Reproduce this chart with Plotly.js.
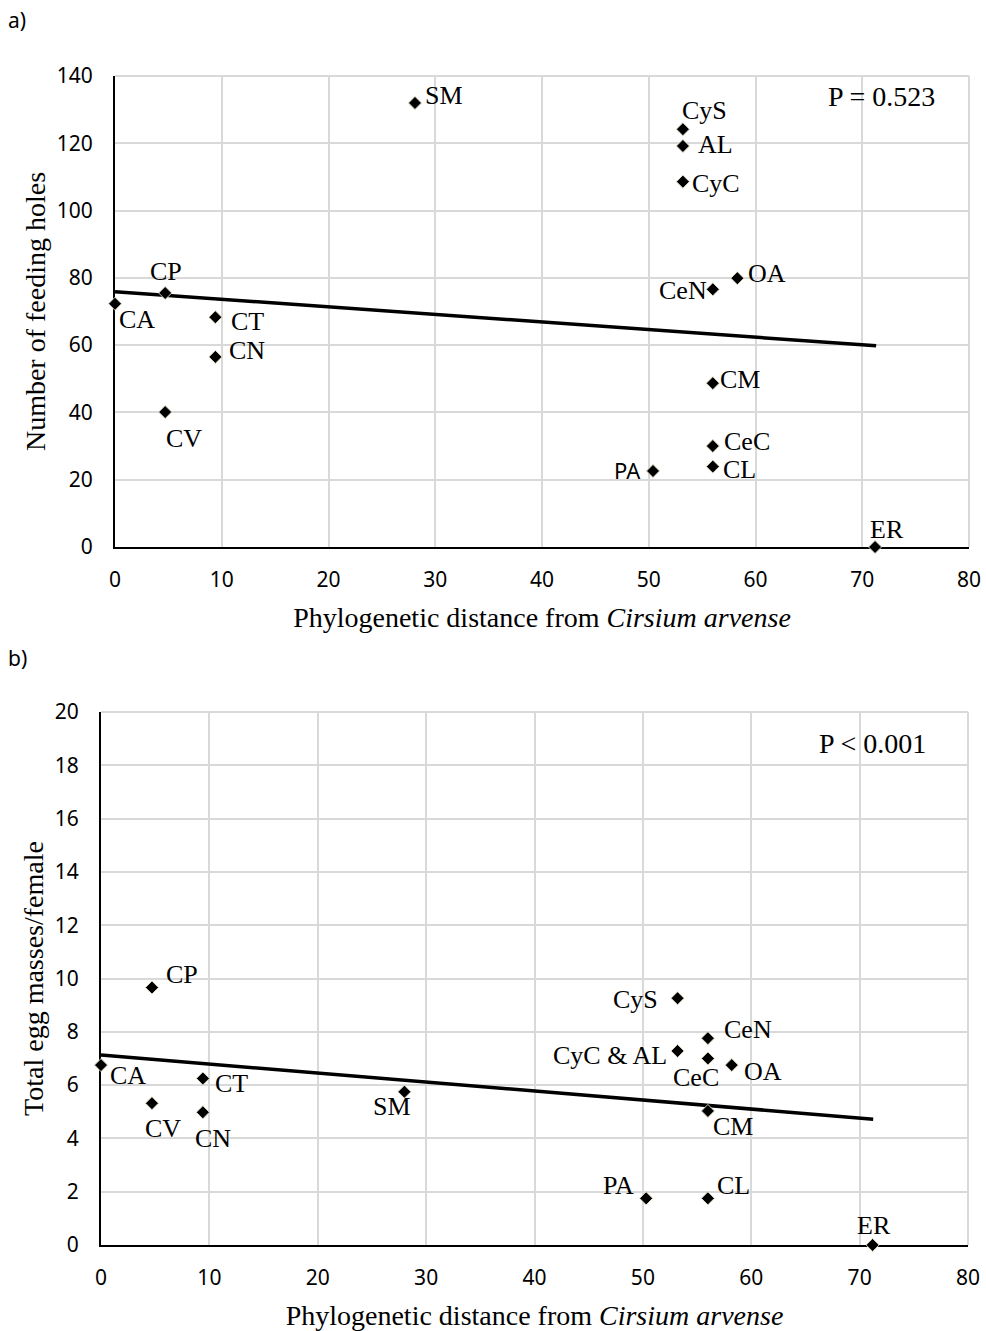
<!DOCTYPE html>
<html><head><meta charset="utf-8">
<script src="https://cdn.plot.ly/plotly-3.0.1.min.js"></script>
<style>html,body{margin:0;padding:0;background:#fff}#chart{width:986px;height:1331px}</style>
</head><body><div id="chart"></div>
<script>
// Panel a) data
const labelsA = ['CA','CP','CT','CN','CV','SM','CyS','AL','CyC','OA','CeN','CM','CeC','CL','PA','ER'];
const distA   = [0, 4.7, 9.4, 9.4, 4.7, 28.1, 53.2, 53.2, 53.2, 58.3, 56.0, 56.0, 56.0, 56.0, 50.4, 71.2];
const holesA  = [72.3, 75.5, 68.3, 56.5, 40.1, 132.0, 124.2, 119.2, 108.6, 79.9, 76.6, 48.7, 30.0, 23.9, 22.6, 0];
const trendXA = [0, 71.3];
const trendYA = [75.9, 59.8];
const pTextA  = 'P = 0.523';

// Panel b) data
const labelsB = ['CA','CP','CV','CT','CN','SM','CyS','CeN','CyC & AL','CeC','OA','CM','PA','CL','ER'];
const distB   = [0, 4.7, 4.7, 9.4, 9.4, 28.0, 53.2, 56.0, 53.2, 56.0, 58.2, 56.0, 50.3, 56.0, 71.2];
const eggsB   = [6.75, 9.66, 5.32, 6.25, 4.98, 5.75, 9.26, 7.76, 7.28, 7.0, 6.75, 5.03, 1.75, 1.75, 0];
const trendXB = [0, 71.25];
const trendYB = [7.13, 4.72];
const pTextB  = 'P &lt; 0.001';

// Label offsets (pixels) – styling only
const offA = {CA:[22,-16],CP:[1,22],CT:[32,-4],CN:[32,6],CV:[19,-26],SM:[29,7],CyS:[22,19],AL:[33,1],CyC:[33,-2],OA:[30,5],CeN:[-30,-1],CM:[27,4],CeC:[34,5],CL:[27,-3],PA:[-26,1],ER:[12,18]};
const offB = {'CA':[27,-10],'CP':[30,13],'CV':[11,-25],'CT':[29,-5],'CN':[10,-26],'SM':[-12,-15],'CyS':[-42,-1],'CeN':[40,9],'CyC & AL':[-68,-5],'CeC':[-12,-19],'OA':[31,-6],'CM':[25,-16],'PA':[-28,13],'CL':[26,13],'ER':[1,20]};

const W = 986, H = 1331;
const serif = 'Liberation Serif, Times New Roman, serif';
const sans = 'Noto Sans, Open Sans, sans-serif';
const markerStyle = {symbol:'diamond', size:10, color:'#000', line:{color:'rgba(225,220,195,0.9)', width:1}};

const traces = [
  {x: trendXA, y: trendYA, mode:'lines', line:{color:'#000', width:3.5}, xaxis:'x', yaxis:'y', hoverinfo:'skip'},
  {x: distA, y: holesA, mode:'markers', marker: markerStyle, cliponaxis:false, xaxis:'x', yaxis:'y', text: labelsA},
  {x: trendXB, y: trendYB, mode:'lines', line:{color:'#000', width:3.5}, xaxis:'x2', yaxis:'y2', hoverinfo:'skip'},
  {x: distB, y: eggsB, mode:'markers', marker: markerStyle, cliponaxis:false, xaxis:'x2', yaxis:'y2', text: labelsB}
];

const annotations = [];
labelsA.forEach((lab, i) => {
  const o = offA[lab];
  annotations.push({xref:'x', yref:'y', x: distA[i], y: holesA[i], text: lab, showarrow:false,
    xanchor:'center', yanchor:'middle', xshift:o[0], yshift:o[1],
    font: lab === 'PA' ? {family: sans, size:22, color:'#000'} : {family: serif, size:26, color:'#000'}});
});
labelsB.forEach((lab, i) => {
  const o = offB[lab];
  annotations.push({xref:'x2', yref:'y2', x: distB[i], y: eggsB[i], text: lab, showarrow:false,
    xanchor:'center', yanchor:'middle', xshift:o[0], yshift:o[1],
    font: {family: serif, size:26, color:'#000'}});
});
annotations.push({xref:'paper', yref:'paper', x: 881/W, y: 1-97/H, text: pTextA, showarrow:false, xanchor:'center', yanchor:'middle', font:{family: serif, size:28, color:'#000'}});
annotations.push({xref:'paper', yref:'paper', x: 872/W, y: 1-743/H, text: pTextB, showarrow:false, xanchor:'center', yanchor:'middle', font:{family: serif, size:28, color:'#000'}});
annotations.push({xref:'paper', yref:'paper', x: 6/W, y: 1-20/H, text: 'a)', showarrow:false, xanchor:'left', yanchor:'middle', font:{family: sans, size:21, color:'#000'}});
annotations.push({xref:'paper', yref:'paper', x: 6/W, y: 1-658/H, text: 'b)', showarrow:false, xanchor:'left', yanchor:'middle', font:{family: sans, size:21, color:'#000'}});

// Gray frame edges (right and top) like the gridlines at the range ends
const shapes = [];
[['x','y'],['x2','y2']].forEach(([xa, ya]) => {
  shapes.push({type:'line', xref: xa+' domain', yref: ya+' domain', x0:1, x1:1, y0:0, y1:1, line:{color:'#d9d9d9', width:2}, layer:'below'});
  shapes.push({type:'line', xref: xa+' domain', yref: ya+' domain', x0:0, x1:1, y0:1, y1:1, line:{color:'#d9d9d9', width:2}, layer:'below'});
});

function xAx(domain, anchor) {
  return {domain, anchor, range:[0,80], tick0:0, dtick:10, showgrid:true, gridcolor:'#d9d9d9', gridwidth:2,
    showline:true, linecolor:'#000', linewidth:2, zeroline:false, layer:'below traces',
    ticks:'outside', ticklen:13, tickcolor:'rgba(0,0,0,0)',
    tickfont:{family: sans, size:21, color:'#000'},
    title:{text:'Phylogenetic distance from <i>Cirsium arvense</i>', font:{family: serif, size:28, color:'#000'}, standoff:15}};
}
function yAx(domain, anchor, range, dtick, title) {
  return {domain, anchor, range, tick0:0, dtick, showgrid:true, gridcolor:'#d9d9d9', gridwidth:2,
    showline:true, linecolor:'#000', linewidth:2, zeroline:false, layer:'below traces',
    ticks:'outside', ticklen:16, tickcolor:'rgba(0,0,0,0)',
    tickfont:{family: sans, size:21, color:'#000'},
    title:{text:title, font:{family: serif, size:28, color:'#000'}, standoff:3}};
}

const layout = {
  width: W, height: H, margin:{l:0, r:0, t:0, b:0}, paper_bgcolor:'#fff', plot_bgcolor:'#fff', showlegend:false,
  xaxis: xAx([115/W, 969/W], 'y'),
  yaxis: yAx([1-547/H, 1-76/H], 'x', [0,140], 20, 'Number of feeding holes'),
  xaxis2: xAx([101/W, 968/W], 'y2'),
  yaxis2: yAx([1-1245/H, 1-712/H], 'x2', [0,20], 2, 'Total egg masses/female'),
  annotations, shapes
};

Plotly.newPlot('chart', traces, layout, {staticPlot:true, displayModeBar:false});
</script></body></html>
